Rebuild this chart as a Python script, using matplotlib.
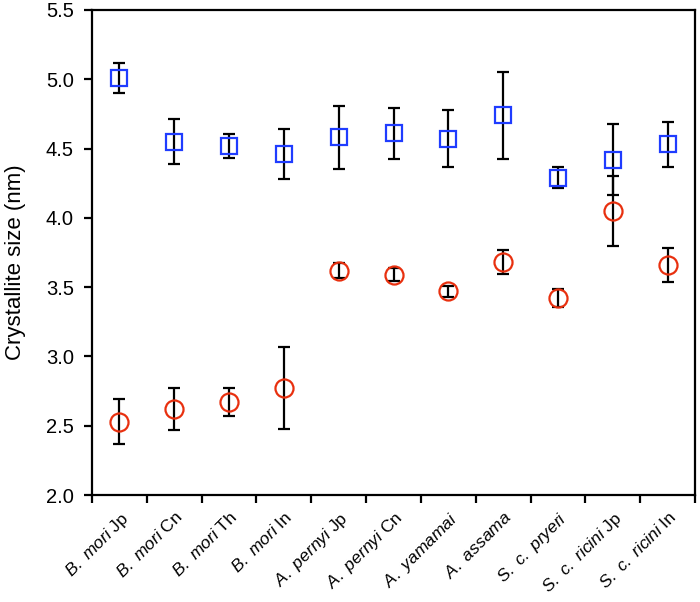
import numpy as np
import matplotlib.pyplot as plt

plt.rcParams['font.family'] = ['Liberation Sans', 'DejaVu Sans']
plt.rcParams['mathtext.fontset'] = 'custom'
plt.rcParams['mathtext.rm'] = 'Liberation Sans'
plt.rcParams['mathtext.it'] = 'Liberation Sans:italic'

species = ['B. mori', 'B. mori', 'B. mori', 'B. mori', 'A. pernyi', 'A. pernyi',
           'A. yamamai', 'A. assama', 'S. c. pryeri', 'S. c. ricini', 'S. c. ricini']
origin = ['Jp', 'Cn', 'Th', 'In', 'Jp', 'Cn', '', '', '', 'Jp', 'In']

# upper series (squares)
sq_val = [5.01, 4.55, 4.52, 4.46, 4.58, 4.61, 4.57, 4.74, 4.29, 4.42, 4.53]
sq_err = [0.11, 0.16, 0.085, 0.18, 0.225, 0.185, 0.205, 0.315, 0.075, 0.255, 0.165]

# lower series (circles)
ci_val = [2.53, 2.62, 2.67, 2.77, 3.62, 3.59, 3.47, 3.68, 3.42, 4.05, 3.66]
ci_err = [0.165, 0.15, 0.10, 0.295, 0.055, 0.045, 0.04, 0.085, 0.065, 0.255, 0.125]

labels = []
for s, o in zip(species, origin):
    t = r'$\mathit{' + s.replace(' ', r'\ ') + '}$'
    if o:
        t += ' ' + o
    labels.append(t)

n = len(species)
x = np.arange(n) + 0.5

fig = plt.figure(figsize=(7, 6.02), dpi=100)
ax = fig.add_axes([0.1314, 0.1777, 0.8615, 0.8057])

ax.errorbar(x, sq_val, yerr=sq_err, fmt='none', ecolor='black', elinewidth=1.6,
            capsize=4.5, capthick=1.6, zorder=2)
ax.errorbar(x, ci_val, yerr=ci_err, fmt='none', ecolor='black', elinewidth=1.6,
            capsize=4.5, capthick=1.6, zorder=2)
ax.plot(x, sq_val, 's', ms=12, mfc='none', mec='#1f3cff', mew=1.6, zorder=3)
ax.plot(x, ci_val, 'o', ms=13, mfc='none', mec='#e8300f', mew=1.6, zorder=3)

ax.set_xlim(0, n)
ax.set_ylim(2.0, 5.5)
yt = np.arange(2.0, 5.51, 0.5)
ax.set_yticks(yt)
ax.set_yticklabels(['%.1f' % v for v in yt], fontsize=14.5)

# ticks at category boundaries, labels at category centres
ax.set_xticks(np.arange(0, n + 1))
ax.set_xticklabels([])
ax.set_xticks(x, minor=True)
ax.set_xticklabels(labels, minor=True, rotation=45, ha='right', va='top',
                   rotation_mode='anchor', fontsize=12.5)
ax.tick_params(axis='x', which='minor', length=0, pad=10)
ax.tick_params(axis='both', which='major', direction='out', length=6, width=1.6)
ax.tick_params(axis='y', pad=7)
for sp in ax.spines.values():
    sp.set_linewidth(1.6)

ax.set_ylabel('Crystallite size (nm)', fontsize=16, labelpad=14)
ax.yaxis.label.set_y(0.48)

fig.savefig('out.png', dpi=100)
